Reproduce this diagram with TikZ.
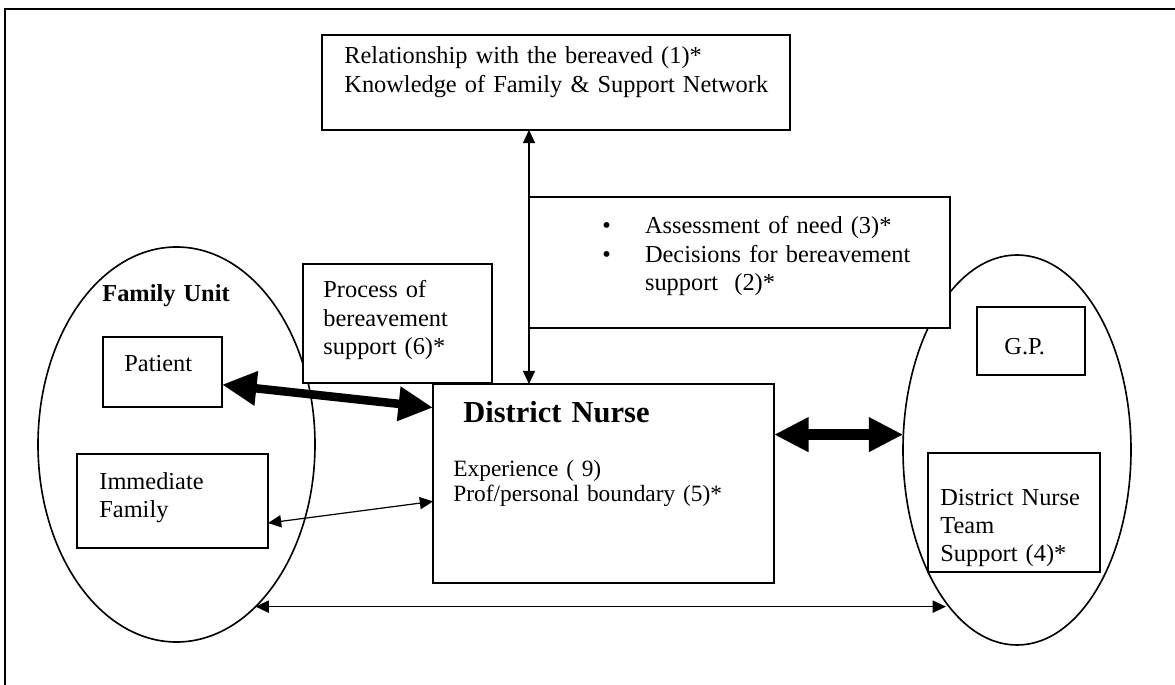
\documentclass[tikz,border=0pt]{standalone}
\usepackage{fontspec}
\setmainfont{Liberation Serif}
\usetikzlibrary{arrows.meta,shapes.geometric,calc}
\newcommand{\pxu}{0.0173cm}

\begin{document}
\begin{tikzpicture}[
  x=0.0173cm, y=-0.0173cm,
  font=\fontsize{12}{13.8}\selectfont,
  p/.style={draw, fill=white, line width=0.9pt, inner sep=0pt, outer sep=0pt, anchor=north west},
  ring/.style={draw, ellipse, line width=0.8pt, inner sep=0pt, outer sep=0pt},
  lbl/.style={inner sep=0pt, anchor=base west, align=left, text width=90mm},
  arr/.style={{Triangle[length=6.5pt,width=6pt]}-{Triangle[length=6.5pt,width=6pt]}, line width=0.6pt},
  fat/.style={{Triangle[length=17pt,width=16pt]}-{Triangle[length=17pt,width=16pt]}, line width=#1},
  fat/.default=4.2pt]
\useasboundingbox (0,0) rectangle (1175,685);
\draw[line width=0.9pt] (1175,9) -- (5,9) -- (5,685);

% the two groups
\node[ring, minimum width=277*\pxu, minimum height=395*\pxu] (fam) at (176.5,444.5) {};
\node[ring, minimum width=228*\pxu, minimum height=390*\pxu] (team) at (1017,450) {};

% boxes
\node[p, minimum width=468*\pxu, minimum height=95*\pxu] (rel) at (322,35) {};
\node[p, minimum width=421*\pxu, minimum height=131*\pxu] (asmt) at (529,197) {};
\node[p, minimum width=189*\pxu, minimum height=119*\pxu] (proc) at (303,264) {};
\node[p, minimum width=341*\pxu, minimum height=199*\pxu] (dn) at (433,384) {};
\node[p, minimum width=119*\pxu, minimum height=70*\pxu] (pat) at (103,337) {};
\node[p, minimum width=191*\pxu, minimum height=94*\pxu] (imm) at (77,454) {};
\node[p, minimum width=108*\pxu, minimum height=68*\pxu] (gp) at (977,307) {};
\node[p, minimum width=172*\pxu, minimum height=119*\pxu] (dnt) at (928,453) {};

% texts
\node[lbl] (reltxt) at (344,64) {Relationship with the bereaved (1)*\\Knowledge of Family \& Support Network};
\node[lbl] (asmttxt) at (602,234) {\makebox[21pt][l]{\textbullet}Assessment of need (3)*\\
  \makebox[21pt][l]{\textbullet}Decisions for bereavement\\
  \hspace*{21pt}support\ \ (2)*};
\node[lbl] (proctxt) at (323,298) {Process of\\bereavement\\support (6)*};
\node[lbl, font=\fontsize{15}{18}\selectfont\bfseries] (dntitle) at (463,422) {District Nurse};
\node[lbl, font=\fontsize{11.5}{12.6}\selectfont] (dnsub) at (453,476) {Experience ( 9)\\Prof/personal boundary (5)*};
\node[lbl, font=\fontsize{12}{13.8}\selectfont\bfseries] (famtxt) at (102,302) {Family Unit};
\node[lbl] (pattxt) at (124,372) {Patient};
\node[lbl] (immtxt) at (99,489) {Immediate\\Family};
\node[lbl] (gptxt) at (1004,355) {G.P.};
\node[lbl] (dnttxt) at (940,505) {District Nurse\\Team\\Support (4)*};

% links
\draw[arr] (asmt.west |- rel.south) -- (asmt.west |- dn.north);
\draw[fat] (pat.-12) -- (dn.156);
\draw[fat=5.6pt] (dn.16) -- (dn.16 -| team.173);
\draw[arr] (imm.-13) -- (dn.186);
\draw[arr] (fam.-64) -- (fam.-64 -| team.-115);
\end{tikzpicture}
\end{document}
